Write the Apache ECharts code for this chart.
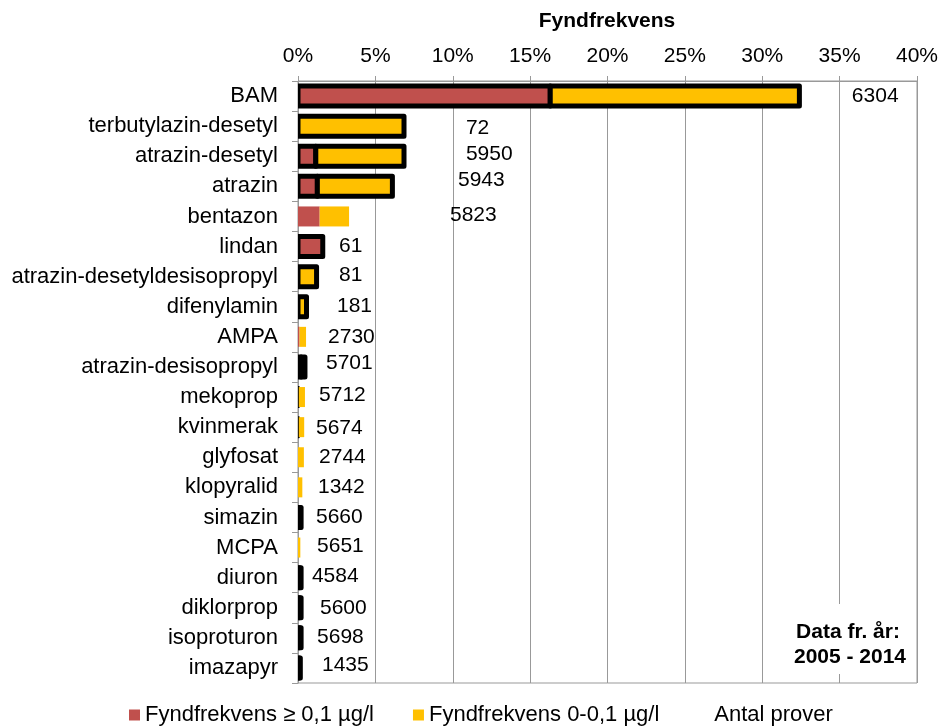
<!DOCTYPE html>
<html><head><meta charset="utf-8">
<script src="https://cdn.jsdelivr.net/npm/echarts@6/dist/echarts.min.js"></script>
<style>html,body{margin:0;padding:0;background:#fff}#c{width:942px;height:727px}</style>
</head><body><div id="c"></div>
<script>
// ---- data ----
const categories = ['BAM','terbutylazin-desetyl','atrazin-desetyl','atrazin','bentazon','lindan',
  'atrazin-desetyldesisopropyl','difenylamin','AMPA','atrazin-desisopropyl','mekoprop','kvinmerak',
  'glyfosat','klopyralid','simazin','MCPA','diuron','diklorprop','isoproturon','imazapyr'];
const freqAbove = [16.3,0,1.15,1.25,1.4,1.6,0,0,0.1,0.2,0.05,0.05,0,0,0.1,0,0.1,0.1,0.1,0.08];
const freqBelow = [16.1,6.85,5.7,4.85,1.9,0,1.2,0.55,0.42,0.25,0.4,0.35,0.38,0.28,0.1,0.15,0.1,0.1,0.1,0.07];
const antalProver = [6304,72,5950,5943,5823,61,81,181,2730,5701,5712,5674,2744,1342,5660,5651,4584,5600,5698,1435];
const seriesNames = ['Fyndfrekvens \u2265 0,1 \u00b5g/l','Fyndfrekvens 0-0,1 \u00b5g/l','Antal prover'];

// ---- styling / label placement (not data) ----
const outlined = new Set(['BAM','terbutylazin-desetyl','atrazin-desetyl','atrazin','lindan',
  'atrazin-desetyldesisopropyl','difenylamin','atrazin-desisopropyl','simazin','diuron','diklorprop','isoproturon','imazapyr']);
const thinOutlined = new Set(['mekoprop','kvinmerak']);
const antalLabelX = [35.79,10.85,10.85,10.34,9.82,2.65,2.65,2.52,1.94,1.81,1.36,1.16,1.36,1.29,1.16,1.23,0.90,1.42,1.23,1.55];
const antalLabelDy = [0,2,-2,-6,-1,0,-1,-1,0,-4,-2,1,0,0,0,-1,-1,0,-1,-3];

const FONT = 'Liberation Sans';
const RED = '#C0504D', YEL = '#FFC000', GRID = '#999999';
const BAR_H = 20;

// stacked segments built from the data arrays: [categoryIndex, start, end]
const redSeg = categories.map((c, i) => [i, 0, freqAbove[i]]);
const yelSeg = categories.map((c, i) => [i, freqAbove[i], freqAbove[i] + freqBelow[i]]);

function makeRender(color, allowThin) {
  return function (params, api) {
    const i = api.value(0), x0 = api.value(1), x1 = api.value(2);
    if (!(x1 > x0)) return null;
    const a = api.coord([x0, i]), b = api.coord([x1, i]);
    const name = categories[i];
    let stroke = null, lw = 0;
    if (outlined.has(name)) { stroke = '#000'; lw = 5; }
    else if (allowThin && thinOutlined.has(name)) { stroke = '#000'; lw = 2; }
    return {
      type: 'rect',
      shape: { x: a[0], y: a[1] - BAR_H / 2, width: b[0] - a[0], height: BAR_H },
      style: { fill: color, stroke: stroke, lineWidth: lw, lineJoin: 'round' }
    };
  };
}

const chart = echarts.init(document.getElementById('c'), null, { renderer: 'canvas' });
chart.setOption({
  animation: false,
  textStyle: { fontFamily: FONT },
  grid: { left: 298, right: 25, top: 81, bottom: 44, show: true, borderColor: GRID, borderWidth: 1 },
  xAxis: {
    type: 'value', position: 'top', min: 0, max: 40, interval: 5,
    axisLine: { show: true, lineStyle: { color: GRID } },
    axisTick: { show: true, length: 5, lineStyle: { color: GRID } },
    splitLine: { show: true, lineStyle: { color: GRID } },
    axisLabel: { formatter: v => v + '%', fontSize: 21, color: '#000', margin: 14, fontFamily: FONT }
  },
  yAxis: {
    type: 'category', inverse: true, data: categories,
    axisLine: { show: true, lineStyle: { color: GRID } },
    axisTick: { show: true, length: 6, interval: 0, lineStyle: { color: GRID } },
    axisLabel: { fontSize: 22, color: '#000', margin: 20, interval: 0, fontFamily: FONT }
  },
  legend: {
    left: 129, top: 704, padding: 0, itemWidth: 11, itemHeight: 11, itemGap: 39, selectedMode: false,
    textStyle: { fontSize: 22, color: '#000', fontFamily: FONT },
    data: [
      { name: seriesNames[0], icon: 'rect', itemStyle: { color: RED } },
      { name: seriesNames[1], icon: 'rect', itemStyle: { color: YEL } },
      { name: seriesNames[2], icon: 'rect', itemStyle: { opacity: 0 } }
    ]
  },
  series: [
    { type: 'custom', name: seriesNames[0], clip: true, itemStyle: { color: RED },
      encode: { x: [1, 2], y: 0 }, data: redSeg, renderItem: makeRender(RED, true) },
    { type: 'custom', name: seriesNames[1], clip: true, itemStyle: { color: YEL },
      encode: { x: [1, 2], y: 0 }, data: yelSeg, renderItem: makeRender(YEL, false) },
    { type: 'scatter', name: seriesNames[2], symbolSize: 0, silent: true, z: 5,
      itemStyle: { color: 'rgba(0,0,0,0)', opacity: 1 },
      data: categories.map((c, i) => ({ value: [antalLabelX[i], c], label: { offset: [0, antalLabelDy[i]] } })),
      label: { show: true, position: 'right', distance: 0, fontSize: 21, color: '#000', opacity: 1, fontFamily: FONT,
        formatter: p => String(antalProver[p.dataIndex]) } }
  ],
  graphic: [
    { type: 'text', x: 607, y: 21, z: 100,
      style: { text: 'Fyndfrekvens', font: 'bold 21px "Liberation Sans"', fill: '#000', textAlign: 'center', textVerticalAlign: 'middle' } },
    { type: 'rect', z: 100, shape: { x: 778, y: 604, width: 136, height: 70 }, style: { fill: '#fff' } },
    { type: 'text', x: 848, y: 632, z: 101,
      style: { text: 'Data fr. \u00e5r:', font: 'bold 21px "Liberation Sans"', fill: '#000', textAlign: 'center', textVerticalAlign: 'middle' } },
    { type: 'text', x: 850, y: 657, z: 101,
      style: { text: '2005 - 2014', font: 'bold 21px "Liberation Sans"', fill: '#000', textAlign: 'center', textVerticalAlign: 'middle' } }
  ]
});
</script></body></html>
